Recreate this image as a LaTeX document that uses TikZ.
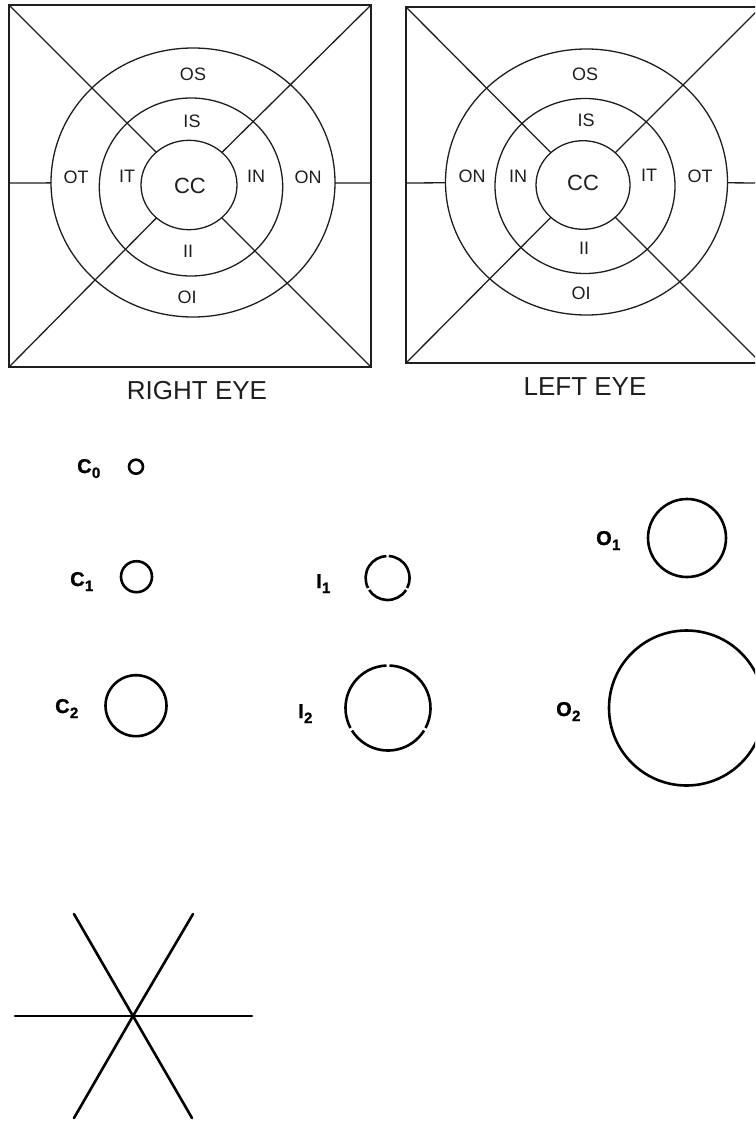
\documentclass[tikz,border=0pt]{standalone}
\usepackage{fontspec}
\setmainfont{Liberation Sans}
\newfontfamily\heavyfont[FakeBold=1.2]{Liberation Sans Bold}
\usetikzlibrary{shapes.geometric}
\definecolor{ink}{HTML}{1E1E1E}
\tikzset{
  ring/.style={draw=ink, ellipse, line width=1.3pt, inner sep=0pt, outer sep=0pt},
  frame/.style={draw=ink, line width=2.8pt},
  thinline/.style={draw=ink, line width=1.3pt},
  zone/.style={text=ink, inner sep=0pt, font=\fontsize{18}{18}\selectfont},
  centerlabel/.style={text=ink, inner sep=0pt, font=\fontsize{22}{22}\selectfont},
  caption/.style={text=ink, inner sep=0pt, font=\fontsize{26}{26}\selectfont},
  target/.style={draw=black, circle, line width=2.6pt, inner sep=0pt, outer sep=0pt},
  arcline/.style={draw=black, line width=2.6pt},
  tag/.style={inner sep=0pt, anchor=base west, font=\fontsize{20}{20}\heavyfont},
  spoke/.style={draw=black, line width=2.6pt, line cap=round},
}
\newcommand\subdigit[1]{\kern0.3pt\raisebox{-5pt}{\fontsize{15}{15}\heavyfont #1}}
\begin{document}
\begin{tikzpicture}[x=1pt,y=-1pt]
\useasboundingbox (0,0) rectangle (755,1121);
\clip (0,0) rectangle (755,1121);

% ---------------- RIGHT EYE ----------------
\coordinate (rA) at (9,5);
\coordinate (rB) at (371,5);
\coordinate (rC) at (371,367);
\coordinate (rD) at (9,367);
\coordinate (rL) at (9,183);
\coordinate (rR) at (371,183);
\draw[frame] (rA) rectangle (rC);
\node[ring, minimum width=284pt, minimum height=269pt] (rO) at (193,182.5) {};
\node[ring, minimum width=183.4pt, minimum height=178pt] (rM) at (191,187) {};
\node[ring, minimum width=96pt, minimum height=89.4pt] (rI) at (189,185) {};
\draw[thinline] (rA) -- (rI);
\draw[thinline] (rB) -- (rI);
\draw[thinline] (rC) -- (rI);
\draw[thinline] (rD) -- (rI);
\draw[thinline] (rL) -- (rO);
\draw[thinline] (rR) -- (rO);
\node[zone] (rOS) at (193,74.5) {OS};
\node[zone] (rIS) at (192,121) {IS};
\node[zone] (rOT) at (76,177) {OT};
\node[zone] (rIT) at (127,176) {IT};
\node[centerlabel] (rCC) at (190,186) {CC};
\node[zone] (rIN) at (256,176) {IN};
\node[zone] (rON) at (308,177) {ON};
\node[zone] (rII) at (188,251) {II};
\node[zone] (rOI) at (187,297) {OI};
\node[caption] (rcap) at (197,391) {RIGHT EYE};

% ---------------- LEFT EYE ----------------
\coordinate (lA) at (406,7);
\coordinate (lB) at (761,7);
\coordinate (lC) at (761,363);
\coordinate (lD) at (406,363);
\coordinate (lL) at (406,183);
\coordinate (lR) at (761,183);
\draw[frame] (lA) rectangle (lC);
\node[ring, minimum width=282pt, minimum height=266pt] (lO) at (586.5,182) {};
\node[ring, minimum width=180pt, minimum height=175pt] (lM) at (585,186) {};
\node[ring, minimum width=94pt, minimum height=88.6pt] (lI) at (583,185) {};
\draw[thinline] (lA) -- (lI);
\draw[thinline] (lB) -- (lI);
\draw[thinline] (lC) -- (lI);
\draw[thinline] (lD) -- (lI);
\draw[thinline] (lL) -- (lO);
\draw[thinline] (lR) -- (lO);
\node[zone] (lOS) at (585,74) {OS};
\node[zone] (lIS) at (586,120) {IS};
\node[zone] (lON) at (472,176) {ON};
\node[zone] (lIN) at (518,176) {IN};
\node[centerlabel] (lCC) at (583,183) {CC};
\node[zone] (lIT) at (649,175) {IT};
\node[zone] (lOT) at (700,176) {OT};
\node[zone] (lII) at (584,248) {II};
\node[zone] (lOI) at (581,293) {OI};
\node[caption] (lcap) at (585,386.5) {LEFT EYE};

% ---------------- TARGETS ----------------
\node[target, minimum size=14pt] (c0) at (136,466.7) {};
\node[target, minimum size=31pt] (c1) at (136.5,576.7) {};
\node[target, minimum size=61pt] (c2) at (136,705.7) {};
\node[target, minimum size=78pt] (o1) at (687,538) {};
\node[target, minimum size=155pt] (o2) at (686.5,708) {};
\coordinate (i1) at (387.6,578);
\coordinate (i2) at (388,708);
\foreach \a in {30,150,270}{
  \draw[arcline] ([shift={(\a+3:22)}]i1) arc[start angle=\a+3, end angle=\a+120-3, radius=22];
  \draw[arcline] ([shift={(\a+2:42.5)}]i2) arc[start angle=\a+2, end angle=\a+120-2, radius=42.5];
}
\node[tag] (tc0) at (77,473) {C\subdigit{0}};
\node[tag] (tc1) at (70,586) {C\subdigit{1}};
\node[tag] (tc2) at (55,713) {C\subdigit{2}};
\node[tag] (ti1) at (316,588) {I\subdigit{1}};
\node[tag] (ti2) at (298,718) {I\subdigit{2}};
\node[tag] (to1) at (596,545) {O\subdigit{1}};
\node[tag] (to2) at (556,716) {O\subdigit{2}};

% ---------------- STAR ----------------
\coordinate (s) at (133,1016);
\coordinate (sL) at (15,1016);
\coordinate (sR) at (252,1016);
\coordinate (sTL) at (74,914);
\coordinate (sBR) at (192,1118);
\coordinate (sTR) at (193,914);
\coordinate (sBL) at (74,1118);
\draw[spoke] (sL) -- (s) -- (sR);
\draw[spoke] (sTL) -- (s) -- (sBR);
\draw[spoke] (sTR) -- (s) -- (sBL);
\end{tikzpicture}
\end{document}
